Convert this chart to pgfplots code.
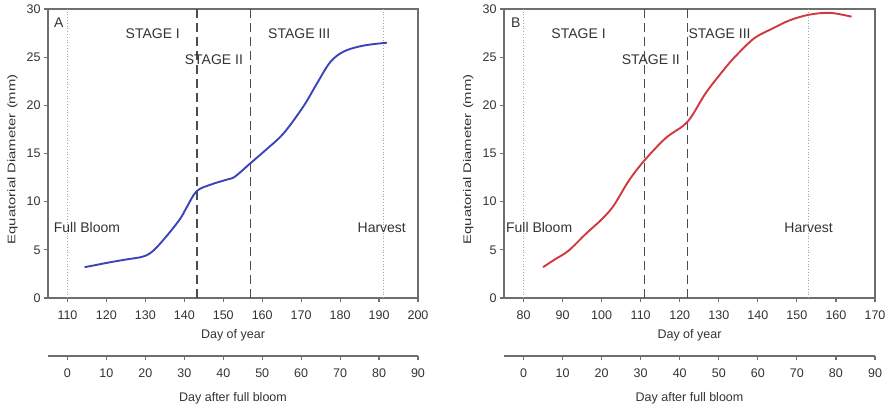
\documentclass[border=0pt]{standalone}
\usepackage{pgfplots}
\pgfplotsset{compat=1.18}
\usepackage{fontspec}
\setmainfont{Liberation Sans}
\usepackage{graphicx}
\definecolor{txt}{HTML}{333333}
\definecolor{frame}{HTML}{6E6E6E}
\definecolor{curveA}{HTML}{3A44B8}
\definecolor{curveB}{HTML}{D2373A}
\newcommand{\ticksize}{\fontsize{12.5}{14}\selectfont}
\newcommand{\stagesize}{\fontsize{14}{16}\selectfont}
\pgfplotsset{
  common/.style={scale only axis, anchor=south west, clip=false,
    axis line style={frame, line width=1.5pt},
    tick style={frame, line width=1.2pt}, tick align=outside, major tick length=4pt,
    tick label style={font=\ticksize, text=txt},
    label style={font=\ticksize, text=txt},
    /pgf/number format/assume math mode=true},
  panel/.style={common, width=370pt, height=289pt, ymin=0, ymax=30,
    ytick={0,5,...,30}, xtick pos=lower, ytick pos=left,
    xticklabel style={yshift=-5pt},
    xlabel style={at={(axis description cs:0.5,0)}, anchor=center, yshift=-37pt},
    ylabel style={at={(axis description cs:-0.096,0.48)}, anchor=center,
      font=\fontsize{11}{12}\selectfont}},
  bloomaxis/.style={common, width=370pt, height=1pt, ymin=0, ymax=1,
    axis x line*=bottom, axis y line=none, xmin=-5, xmax=90, xtick={0,10,...,90},
    xticklabel style={yshift=-5pt},
    xlabel={Day after full bloom},
    xlabel style={at={(axis description cs:0.5,0)}, anchor=center, yshift=-42pt}},
  stage/.style={gray!60!black, line width=1.8pt, dash pattern=on 9pt off 5pt},
  mark line/.style={gray!70, line width=0.8pt, dotted}
}
\begin{document}
\begin{tikzpicture}
\path[use as bounding box] (0,0) rectangle (886pt,412pt);
% Panel A
\begin{axis}[panel, at={(48pt,114pt)}, xmin=105, xmax=200, xtick={110,120,...,200},
  xlabel={Day of year}, ylabel={\scalebox{1.35}[1]{Equatorial Diameter (mm)}}]
  \addplot[mark line] coordinates {(110,0) (110,30)};
  \addplot[mark line] coordinates {(191,0) (191,30)};
  \addplot[stage] coordinates {(143.2,0) (143.2,30)};
  \addplot[stage] coordinates {(157,0) (157,30)};
  \addplot[curveA, line width=1.9pt, smooth, tension=0.55] coordinates {
    (114.4,3.2) (117,3.4) (120.8,3.7) (125.1,4.0) (129.4,4.3) (132,4.9)
    (135.4,6.4) (138.9,8.2) (140.6,9.4) (143.2,11.1) (147,11.8) (151,12.3)
    (153,12.6) (157,14.0) (161,15.4) (165.5,17.1) (170.6,19.9) (174.1,22.3)
    (177.5,24.5) (181,25.6) (186,26.2) (192,26.5)};
  \node[font=\stagesize, text=txt] at (axis cs:107.8,28.6) {A};
  \node[font=\stagesize, text=txt] at (axis cs:131.9,27.4) {STAGE I};
  \node[font=\stagesize, text=txt] at (axis cs:147.6,24.7) {STAGE II};
  \node[font=\stagesize, text=txt] at (axis cs:169.5,27.4) {STAGE III};
  \node[font=\stagesize, text=txt] at (axis cs:115,7.3) {Full Bloom};
  \node[font=\stagesize, text=txt] at (axis cs:190.7,7.3) {Harvest};
\end{axis}
\begin{axis}[bloomaxis, at={(48pt,56pt)}]
\end{axis}
% Panel B
\begin{axis}[panel, width=371pt, at={(504pt,114pt)}, xmin=75, xmax=170, xtick={80,90,...,170},
  xlabel={Day of year}, ylabel={\scalebox{1.35}[1]{Equatorial Diameter (mm)}}]
  \addplot[mark line] coordinates {(80,0) (80,30)};
  \addplot[mark line] coordinates {(153,0) (153,30)};
  \addplot[stage] coordinates {(111,0) (111,30)};
  \addplot[stage] coordinates {(122,0) (122,30)};
  \addplot[curveB, line width=1.9pt, smooth, tension=0.55] coordinates {
    (85,3.2) (88,4.0) (91.5,4.9) (95.8,6.6) (100.1,8.2) (103.1,9.6) (107,12.2)
    (111,14.3) (116.4,16.6) (122,18.3) (126.7,21.3) (131.9,24.0) (135,25.4)
    (139.2,27.0) (143.9,28.0) (148,28.8) (153,29.4) (158.5,29.6) (164,29.2)};
  \node[font=\stagesize, text=txt] at (axis cs:78,28.6) {B};
  \node[font=\stagesize, text=txt] at (axis cs:94.1,27.4) {STAGE I};
  \node[font=\stagesize, text=txt] at (axis cs:112.6,24.7) {STAGE II};
  \node[font=\stagesize, text=txt] at (axis cs:130.2,27.4) {STAGE III};
  \node[font=\stagesize, text=txt] at (axis cs:84,7.3) {Full Bloom};
  \node[font=\stagesize, text=txt] at (axis cs:153,7.3) {Harvest};
\end{axis}
\begin{axis}[bloomaxis, width=371pt, at={(504pt,56pt)}]
\end{axis}
\end{tikzpicture}
\end{document}
